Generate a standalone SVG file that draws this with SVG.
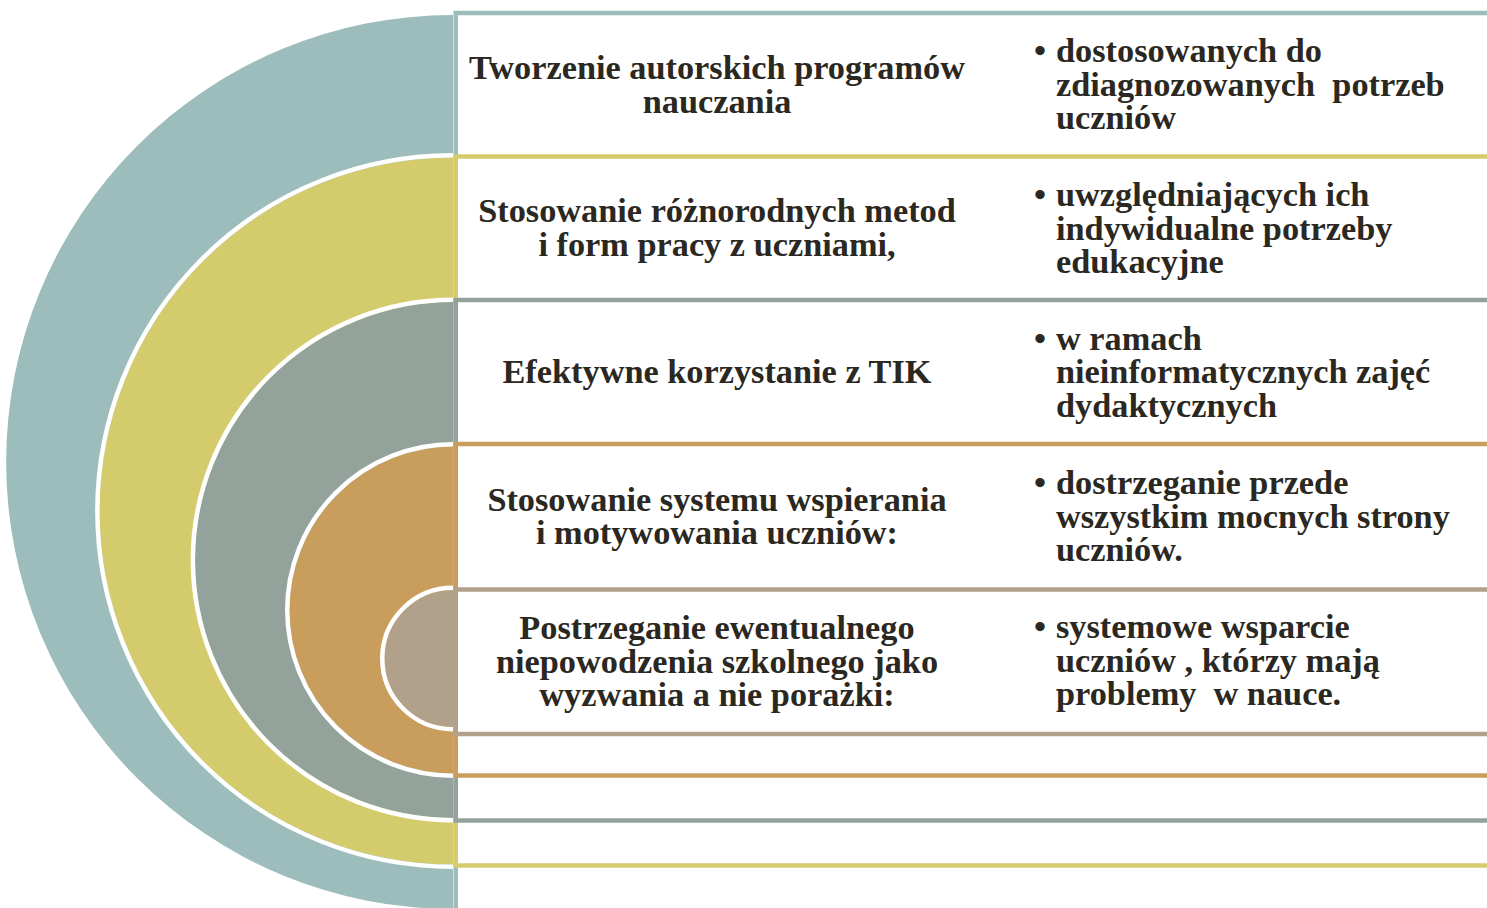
<svg xmlns="http://www.w3.org/2000/svg" width="1487" height="908" viewBox="0 0 1487 908">
<style>
.t{font-family:"Liberation Serif","Times New Roman",serif;font-weight:bold;font-size:34.3px;fill:#2b2821}
.c{text-anchor:middle}
.b{text-anchor:middle}
.arc{fill:none;stroke:#fff;stroke-width:4.5}
.box{fill:#fff;stroke-width:4.5}
</style>
<rect width="1487" height="908" fill="#fff"/>
<g id="node1">
<rect class="box" x="455.75" y="13" width="1050" height="910" stroke="#9cbdbc"/>
<path d="M453 15 A447 447 0 0 0 453 909 Z" fill="#9cbdbc"/>
<text class="t c" x="717" y="79">Tworzenie autorskich programów</text>
<text class="t c" x="717" y="112.5">nauczania</text>
<text class="t b" x="1040" y="62">•</text>
<text class="t" x="1056" y="62">dostosowanych do</text>
<text class="t" x="1056" y="95.5" xml:space="preserve">zdiagnozowanych  potrzeb</text>
<text class="t" x="1056" y="129">uczniów</text>
</g>
<g id="node2">
<rect class="box" x="455.75" y="156.5" width="1050" height="709" stroke="#d4cb6d"/>
<path d="M453 157.5 A353.5 353.5 0 0 0 453 864.5 Z" fill="#d4cb6d"/>
<path class="arc" d="M453 155.25 A355.75 355.75 0 0 0 453 866.75"/>
<text class="t c" x="717" y="222">Stosowanie różnorodnych metod</text>
<text class="t c" x="717" y="255.5">i form pracy z uczniami,</text>
<text class="t b" x="1040" y="206">•</text>
<text class="t" x="1056" y="206">uwzględniających ich</text>
<text class="t" x="1056" y="239.5">indywidualne potrzeby</text>
<text class="t" x="1056" y="273">edukacyjne</text>
</g>
<g id="node3">
<rect class="box" x="455.75" y="300" width="1050" height="520.5" stroke="#93a29b"/>
<path d="M453 302 A258 258 0 0 0 453 818 Z" fill="#93a29b"/>
<path class="arc" d="M453 299.75 A260.25 260.25 0 0 0 453 820.25"/>
<text class="t c" x="717" y="383">Efektywne korzystanie z TIK</text>
<text class="t b" x="1040" y="349.5">•</text>
<text class="t" x="1056" y="349.5">w ramach</text>
<text class="t" x="1056" y="383">nieinformatycznych zajęć</text>
<text class="t" x="1056" y="416.5">dydaktycznych</text>
</g>
<g id="node4">
<rect class="box" x="455.75" y="444" width="1050" height="331.5" stroke="#c99d5b"/>
<path d="M453 446.5 A163.5 163.5 0 0 0 453 773.5 Z" fill="#c99d5b"/>
<path class="arc" d="M453 444.25 A165.75 165.75 0 0 0 453 775.75"/>
<text class="t c" x="717" y="510.5">Stosowanie systemu wspierania</text>
<text class="t c" x="717" y="544">i motywowania uczniów:</text>
<text class="t b" x="1040" y="494">•</text>
<text class="t" x="1056" y="494">dostrzeganie przede</text>
<text class="t" x="1056" y="527.5">wszystkim mocnych strony</text>
<text class="t" x="1056" y="561">uczniów.</text>
</g>
<g id="node5">
<rect class="box" x="455.75" y="589.5" width="1050" height="144.5" stroke="#b1a08a"/>
<path d="M453 590 A68.5 68.5 0 0 0 453 727 Z" fill="#b1a08a"/>
<path class="arc" d="M453 587.75 A70.75 70.75 0 0 0 453 729.25"/>
<text class="t c" x="717" y="639">Postrzeganie ewentualnego</text>
<text class="t c" x="717" y="672.5">niepowodzenia szkolnego jako</text>
<text class="t c" x="717" y="706">wyzwania a nie porażki:</text>
<text class="t b" x="1040" y="638">•</text>
<text class="t" x="1056" y="638">systemowe wsparcie</text>
<text class="t" x="1056" y="671.5">uczniów , którzy mają</text>
<text class="t" x="1056" y="705" xml:space="preserve">problemy  w nauce.</text>
</g>
</svg>
